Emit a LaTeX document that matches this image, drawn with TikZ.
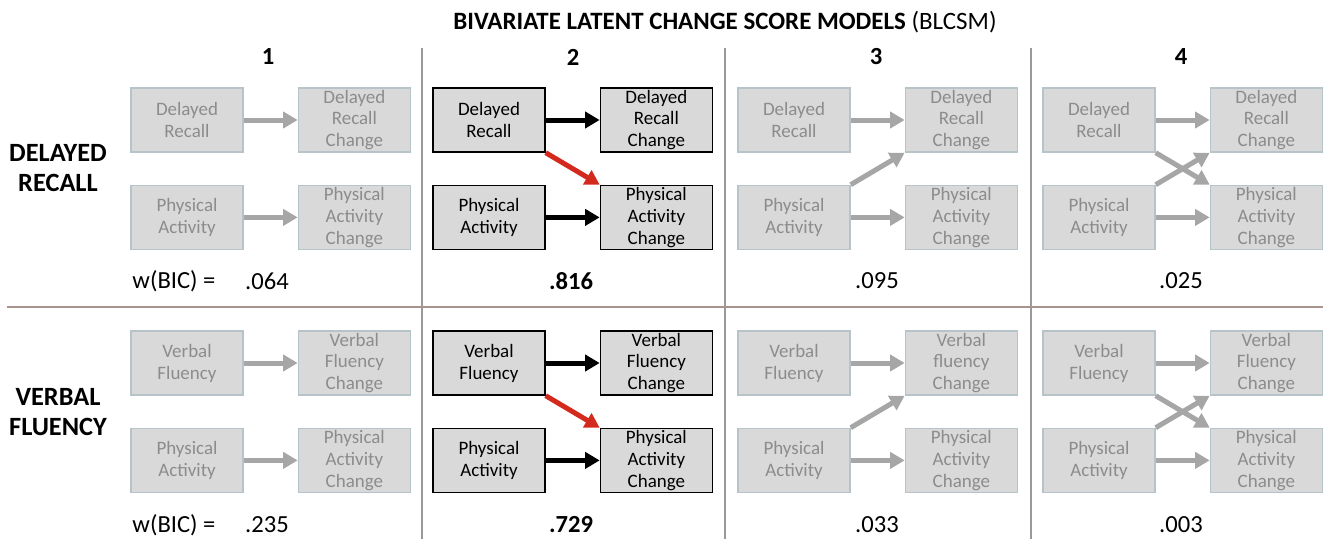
\documentclass[tikz,border=0pt]{standalone}
\usepackage{fontspec}
\setmainfont{Carlito}
\usetikzlibrary{positioning,arrows.meta}

\definecolor{boxgrey}{HTML}{D9D9D9}
\definecolor{boxedge}{HTML}{B6C3C9}
\definecolor{textgrey}{HTML}{8C8C8C}
\definecolor{arrowgrey}{HTML}{A6A6A6}
\definecolor{pathred}{HTML}{D42A1E}
\definecolor{rulegrey}{HTML}{999999}
\definecolor{rulebrown}{HTML}{A8938F}

\begin{document}
\begin{tikzpicture}[x=0.02cm, y=-0.02cm, node distance=0.64cm and 1.08cm,
    greybox/.style={rectangle, draw=boxedge, fill=boxgrey, text=textgrey, line width=0.8pt,
        minimum width=2.24cm, minimum height=1.28cm, inner sep=0pt, align=center,
        font=\fontsize{10.8}{12.5}\selectfont},
    darkbox/.style={greybox, draw=black, text=black},
    greyarrow/.style={-{Triangle[length=0.29cm, width=0.32cm]}, line width=0.1cm, draw=arrowgrey},
    darkarrow/.style={greyarrow, draw=black},
    redarrow/.style={greyarrow, draw=pathred},
    heading/.style={font=\fontsize{14}{16}\selectfont\bfseries},
    rowlabel/.style={align=center, font=\fontsize{15}{17}\selectfont\bfseries},
    score/.style={font=\fontsize{14}{16}\selectfont}]

    \useasboundingbox (0,0) rectangle (1323,539);

    % Frame lines
    \draw[rulegrey, line width=0.7pt] (422,48) -- (422,539);
    \draw[rulegrey, line width=0.7pt] (725,48) -- (725,539);
    \draw[rulegrey, line width=0.7pt] (1031,48) -- (1031,539);
    \draw[rulebrown, line width=0.7pt] (7,307) -- (1323,307);

    % Titles
    \node (title) at (725,22) {\fontsize{14.2}{16}\selectfont\bfseries BIVARIATE LATENT CHANGE SCORE MODELS \mdseries(BLCSM)};
    \node[heading] (h1) at (268,57) {1};
    \node[heading] (h2) at (573,57) {2};
    \node[heading] (h3) at (876,57) {3};
    \node[heading] (h4) at (1181,57) {4};
    \node[rowlabel] (recall) at (58,168) {DELAYED\\RECALL};
    \node[rowlabel] (fluency) at (58,412) {VERBAL\\FLUENCY};

    % Grey models
    \foreach \p/\x/\vf in {1/187/Fluency, 3/794/fluency, 4/1099/Fluency} {
        \node (dr\p) [greybox] at (\x,120) {Delayed\\Recall};
        \node[right=of dr\p] (drc\p) [greybox] {Delayed\\Recall\\Change};
        \node[below=of dr\p] (pa\p) [greybox] {Physical\\Activity};
        \node[below=of drc\p] (pac\p) [greybox] {Physical\\Activity\\Change};
        \node (vf\p) [greybox] at (\x,363) {Verbal\\Fluency};
        \node[right=of vf\p] (vfc\p) [greybox] {Verbal\\\vf\\Change};
        \node[below=of vf\p] (pb\p) [greybox] {Physical\\Activity};
        \node[below=of vfc\p] (pbc\p) [greybox] {Physical\\Activity\\Change};
        \draw[greyarrow] (dr\p) -- (drc\p);
        \draw[greyarrow] (pa\p) -- (pac\p);
        \draw[greyarrow] (vf\p) -- (vfc\p);
        \draw[greyarrow] (pb\p) -- (pbc\p);
    }

    % Best model
    \node (dr2) [darkbox] at (489,120) {Delayed\\Recall};
    \node[right=of dr2] (drc2) [darkbox] {Delayed\\Recall\\Change};
    \node[below=of dr2] (pa2) [darkbox] {Physical\\Activity};
    \node[below=of drc2] (pac2) [darkbox] {Physical\\Activity\\Change};
    \node (vf2) [darkbox] at (489,363) {Verbal\\Fluency};
    \node[right=of vf2] (vfc2) [darkbox] {Verbal\\Fluency\\Change};
    \node[below=of vf2] (pb2) [darkbox] {Physical\\Activity};
    \node[below=of vfc2] (pbc2) [darkbox] {Physical\\Activity\\Change};
    \draw[darkarrow] (dr2) -- (drc2);
    \draw[darkarrow] (pa2) -- (pac2);
    \draw[darkarrow] (vf2) -- (vfc2);
    \draw[darkarrow] (pb2) -- (pbc2);

    % Coupling paths
    \draw[redarrow] (dr2.south east) -- (pac2.north west);
    \draw[redarrow] (vf2.south east) -- (pbc2.north west);
    \draw[greyarrow] (pa3.north east) -- (drc3.south west);
    \draw[greyarrow] (pb3.north east) -- (vfc3.south west);
    \draw[greyarrow] (dr4.south east) -- (pac4.north west);
    \draw[greyarrow] (pa4.north east) -- (drc4.south west);
    \draw[greyarrow] (vf4.south east) -- (pbc4.north west);
    \draw[greyarrow] (pb4.north east) -- (vfc4.south west);

    % Weights
    \node[score] (wbic1) at (174,281) {w(BIC) =};
    \node[score] (s11) at (267,281) {.064};
    \node[score] (s12) at (571,281) {\bfseries .816};
    \node[score] (s13) at (877,281) {.095};
    \node[score] (s14) at (1181,281) {.025};
    \node[score] (wbic2) at (174,525) {w(BIC) =};
    \node[score] (s21) at (267,525) {.235};
    \node[score] (s22) at (571,525) {\bfseries .729};
    \node[score] (s23) at (877,525) {.033};
    \node[score] (s24) at (1181,525) {.003};

\end{tikzpicture}
\end{document}
